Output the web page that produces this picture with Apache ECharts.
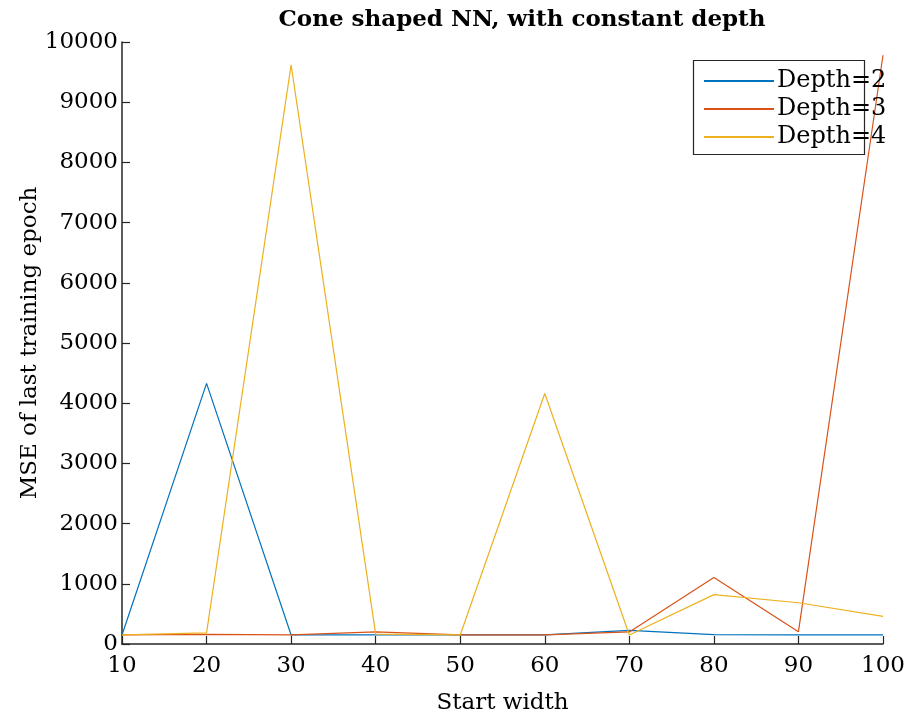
<!DOCTYPE html>
<html><head><meta charset="utf-8">
<script src="https://cdn.jsdelivr.net/npm/echarts@6/dist/echarts.min.js"></script>
<style>html,body{margin:0;padding:0;background:#fff}#c{width:912px;height:716px}</style>
</head><body><div id="c"></div>
<script>
const startWidth = [10, 20, 30, 40, 50, 60, 70, 80, 90, 100];
const depth2 = [150, 4330, 150, 150, 150, 150, 225, 155, 150, 150];
const depth3 = [150, 160, 150, 200, 150, 150, 200, 1105, 205, 9780];
const depth4 = [150, 185, 9620, 165, 150, 4160, 150, 820, 685, 460];
const seriesNames = ['Depth=2', 'Depth=3', 'Depth=4'];
const colors = ['#0072BD', '#D95319', '#EDB120'];
const FONT = 'DejaVu Serif';

const chart = echarts.init(document.getElementById('c'));
const mk = (name, vals, i) => ({
  name, type: 'line', symbol: 'none', animation: false,
  data: startWidth.map((x, k) => [x, vals[k]]),
  lineStyle: { color: colors[i], width: 1.2 }, itemStyle: { color: colors[i] }
});
chart.setOption({
  animation: false,
  textStyle: { fontFamily: FONT },
  title: { text: 'Cone shaped NN, with constant depth', left: 517, textAlign: 'center', top: 4,
    textStyle: { fontFamily: FONT, fontWeight: 'bold', fontSize: 23, color: '#000' } },
  grid: { left: 122, right: 29, top: 42, bottom: 72, containLabel: false, outerBoundsMode: 'none' },
  legend: { orient: 'vertical', left: 699, top: 64, itemWidth: 70, itemHeight: 2, itemGap: 4,
    icon: 'rect',
    textStyle: { fontFamily: FONT, fontSize: 24, color: '#000', padding: [0, 0, 0, -2] },
    data: seriesNames },
  graphic: [{ type: 'rect', shape: { x: 693.5, y: 60.5, width: 171, height: 94 },
    style: { fill: 'none', stroke: '#262626', lineWidth: 1.2 }, z: 0 }],
  xAxis: { type: 'value', min: 10, max: 100, interval: 10, name: 'Start width',
    nameLocation: 'middle', nameGap: 48, nameMoveOverlap: false,
    nameTextStyle: { fontFamily: FONT, fontSize: 23, color: '#000' },
    axisLine: { show: true, lineStyle: { color: '#262626', width: 1.5 } },
    axisTick: { show: true, inside: true, length: 8, lineStyle: { color: '#262626', width: 1.2 } },
    axisLabel: { fontFamily: FONT, fontSize: 23, color: '#000', margin: 11, formatter: v => String(v) },
    splitLine: { show: false } },
  yAxis: { type: 'value', min: 0, max: 10000, interval: 1000, name: 'MSE of last training epoch',
    nameLocation: 'middle', nameGap: 80, nameRotate: 90, nameMoveOverlap: false,
    nameTextStyle: { fontFamily: FONT, fontSize: 23, color: '#000' },
    axisLine: { show: true, lineStyle: { color: '#262626', width: 1.5 } },
    axisTick: { show: true, inside: true, length: 8, lineStyle: { color: '#262626', width: 1.2 } },
    axisLabel: { fontFamily: FONT, fontSize: 23, color: '#000', margin: 4, formatter: v => String(v) },
    splitLine: { show: false } },
  series: [mk(seriesNames[0], depth2, 0), mk(seriesNames[1], depth3, 1), mk(seriesNames[2], depth4, 2)]
});
</script></body></html>
